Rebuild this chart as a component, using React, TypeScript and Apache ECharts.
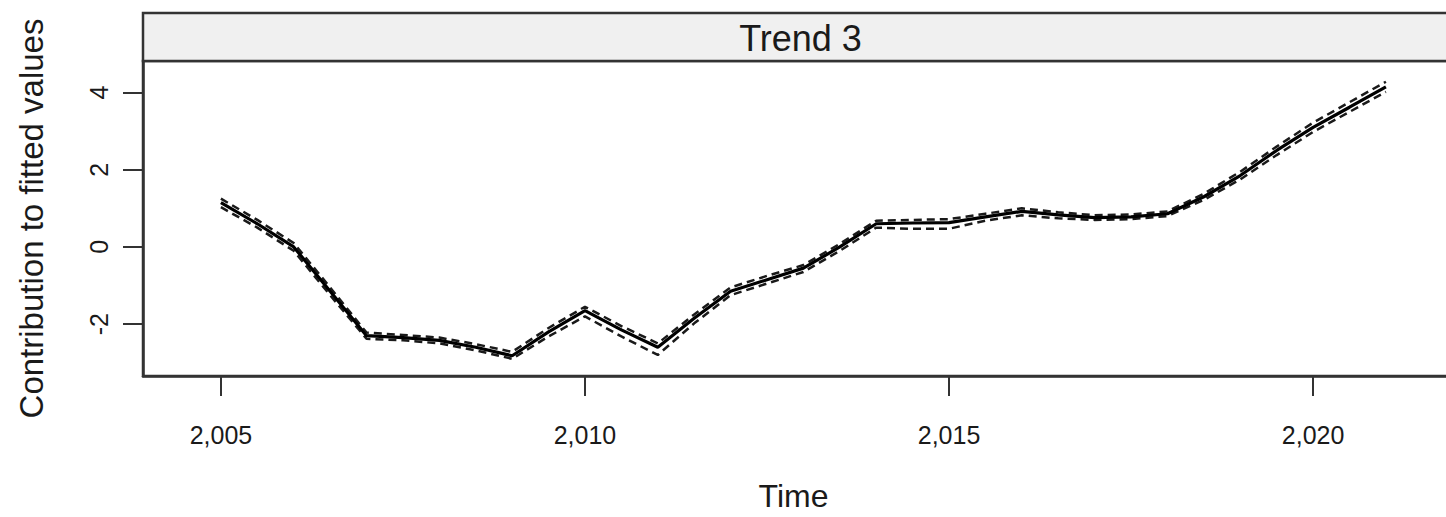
import React, { useEffect, useRef, useState } from "react";
import * as echarts from "echarts";

// Half-yearly time points of the fitted trend component
const years = [
  2005, 2005.5, 2006, 2006.5, 2007, 2007.5, 2008, 2008.5, 2009, 2009.5, 2010,
  2010.5, 2011, 2011.5, 2012, 2012.5, 2013, 2013.5, 2014, 2014.5, 2015, 2015.5,
  2016, 2016.5, 2017, 2017.5, 2018, 2018.5, 2019, 2019.5, 2020, 2020.5, 2021,
];

// Estimated contribution of trend 3
const fitted = [
  1.15, 0.6, 0.0, -1.15, -2.3, -2.35, -2.42, -2.6, -2.82, -2.2, -1.65, -2.15,
  -2.6, -1.85, -1.15, -0.85, -0.55, 0.0, 0.6, 0.62, 0.63, 0.78, 0.92, 0.83,
  0.76, 0.78, 0.86, 1.3, 1.85, 2.5, 3.1, 3.62, 4.15,
];

// Upper and lower confidence bounds
const upper = [
  1.25, 0.7, 0.1, -1.05, -2.22, -2.28, -2.35, -2.52, -2.72, -2.1, -1.55, -2.05,
  -2.5, -1.75, -1.05, -0.75, -0.47, 0.08, 0.68, 0.7, 0.72, 0.86, 1.0, 0.9,
  0.82, 0.84, 0.92, 1.38, 1.95, 2.6, 3.22, 3.75, 4.28,
];
const lower = [
  1.03, 0.5, -0.1, -1.25, -2.38, -2.42, -2.5, -2.68, -2.9, -2.32, -1.8, -2.32,
  -2.8, -1.98, -1.25, -0.95, -0.65, -0.1, 0.5, 0.47, 0.47, 0.68, 0.82, 0.74,
  0.7, 0.72, 0.8, 1.22, 1.75, 2.38, 2.98, 3.5, 4.02,
];

const xTicks = [2005, 2010, 2015, 2020];
const yTicks = [-2, 0, 2, 4];

const panelTitle = "Trend 3";
const xTitle = "Time";
const yTitle = "Contribution to fitted values";

const FONT = "'Liberation Sans', Arial, sans-serif";
const INK = "#1a1a1a";
const FRAME = "#333333";

const X_MIN = 2003.93;
const X_MAX = 2022.1;
const Y_MIN = -3.345;
const Y_MAX = 4.818;
const TICK_LEN = 20;

// The panel runs past the right edge of the page, so the canvas is wider than the view.
const VIEW_W = 1446;
const VIEW_H = 517;
const CHART_W = 1466;

const pairs = (ys: number[]) => years.map((x, i) => [x, ys[i]]);

export default function App() {
  const ref = useRef<HTMLDivElement>(null);
  const [err, setErr] = useState("");

  useEffect(() => {
    if (!ref.current) return;
    const chart = echarts.init(ref.current, undefined, { renderer: "svg" });

    const gridLeft = 143;
    const gridTop = 61;
    const gridRight = 0;
    const gridBottom = 139;
    const panelWidth = CHART_W - gridLeft - gridRight;

    try {
      chart.setOption({
        animation: false,
        grid: {
          left: gridLeft,
          top: gridTop,
          right: gridRight,
          bottom: gridBottom,
          show: true,
          borderColor: FRAME,
          borderWidth: 2.5,
        },
        graphic: [
          {
            id: "strip-bg",
            type: "rect",
            shape: { x: gridLeft, y: 13, width: panelWidth + 10, height: gridTop - 13 },
            style: { fill: "#f0f0f0", stroke: FRAME, lineWidth: 2.5 },
            z: 10,
          },
          {
            id: "strip-text",
            type: "text",
            x: gridLeft + panelWidth / 2 - 4,
            y: 38,
            style: {
              text: panelTitle,
              fontFamily: FONT,
              fontSize: 36,
              fill: INK,
              textAlign: "center",
              textVerticalAlign: "middle",
            },
            z: 11,
          },
        ],
        xAxis: {
          type: "value",
          min: X_MIN,
          max: X_MAX,
          splitLine: { show: false },
          axisLine: { show: true, onZero: false, lineStyle: { color: FRAME, width: 2.5 } },
          axisTick: {
            show: true,
            customValues: xTicks,
            length: TICK_LEN,
            lineStyle: { color: FRAME, width: 2 },
          },
          axisLabel: {
            customValues: xTicks,
            fontFamily: FONT,
            fontSize: 25,
            color: INK,
            margin: 46,
          },
          name: xTitle,
          nameLocation: "middle",
          nameGap: 104,
          nameTextStyle: {
            fontFamily: FONT,
            fontSize: 32,
            color: INK,
            padding: [0, 22, 0, 0],
          },
        },
        yAxis: {
          type: "value",
          min: Y_MIN,
          max: Y_MAX,
          splitLine: { show: false },
          axisLine: { show: true, onZero: false, lineStyle: { color: FRAME, width: 2.5 } },
          axisTick: {
            show: true,
            customValues: yTicks,
            length: TICK_LEN,
            lineStyle: { color: FRAME, width: 2 },
          },
          axisLabel: {
            customValues: yTicks,
            rotate: 90,
            fontFamily: FONT,
            fontSize: 25,
            color: INK,
            margin: 32,
          },
          name: yTitle,
          nameLocation: "middle",
          nameGap: 95,
          nameTextStyle: { fontFamily: FONT, fontSize: 33, color: INK },
        },
        series: [
          {
            type: "line",
            data: pairs(upper),
            symbol: "none",
            lineStyle: { color: INK, width: 2.5, type: [8, 5] },
            z: 3,
          },
          {
            type: "line",
            data: pairs(lower),
            symbol: "none",
            lineStyle: { color: INK, width: 2.5, type: [8, 5] },
            z: 3,
          },
          {
            type: "line",
            data: pairs(fitted),
            symbol: "none",
            lineStyle: { color: "#000", width: 3.2 },
            z: 4,
          },
        ],
      });
    } catch (e: any) {
      setErr(String(e && e.stack ? e.stack : e).slice(0, 300));
    }

    return () => chart.dispose();
  }, []);

  return (
    <div
      style={{
        position: "fixed",
        left: 0,
        top: 0,
        width: VIEW_W,
        height: VIEW_H,
        overflow: "hidden",
        background: "#ffffff",
      }}
    >
      <div ref={ref} style={{ width: CHART_W, height: VIEW_H }} />
      {err ? (
        <div style={{ position: "absolute", left: 200, top: 420, color: "red", fontSize: 12, width: 1000 }}>
          {err}
        </div>
      ) : null}
    </div>
  );
}
